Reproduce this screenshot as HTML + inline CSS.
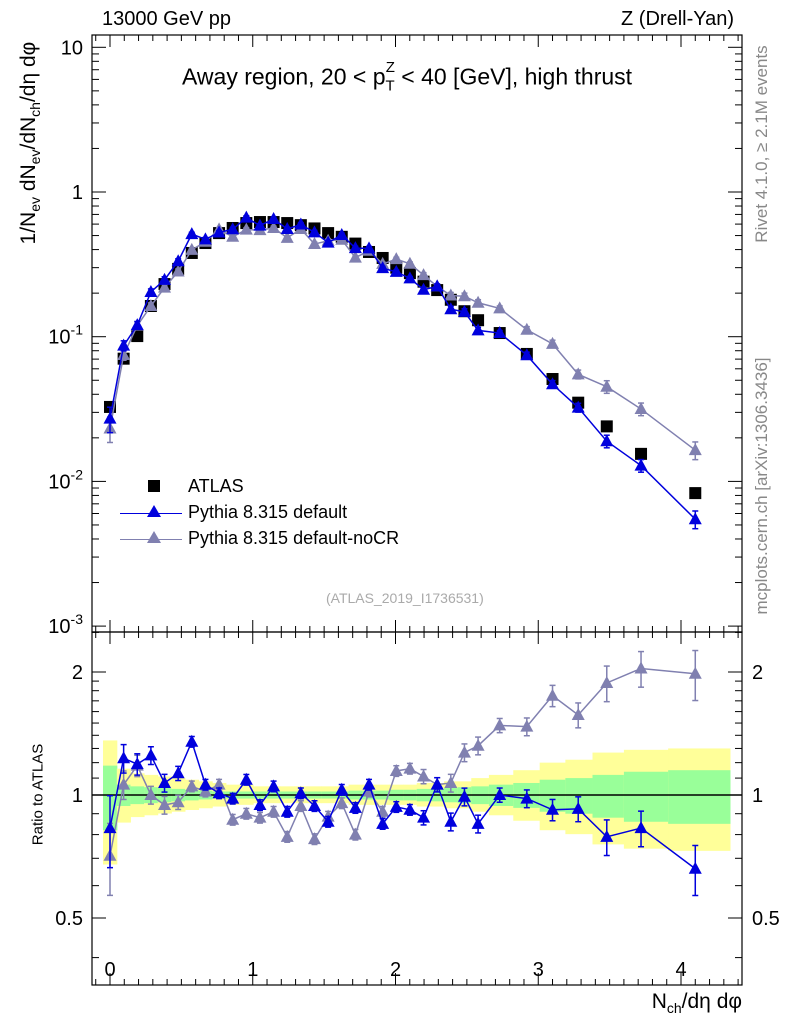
<!DOCTYPE html>
<html><head><meta charset="utf-8"><style>
body{margin:0;background:#fff;font-family:"Liberation Sans",sans-serif}
svg text{font-family:"Liberation Sans","DejaVu Sans",sans-serif}
</style></head><body>
<svg id="c" width="786" height="1024" xmlns="http://www.w3.org/2000/svg"></svg>
<script>
const xs=[0,0.0955,0.191,0.2865,0.382,0.4775,0.573,0.6685,0.764,0.8595,0.955,1.0505,1.146,1.2415,1.337,1.4325,1.528,1.6235,1.719,1.8145,1.91,2.0055,2.101,2.1965,2.292,2.3875,2.483,2.5785,2.73,2.92,3.1,3.28,3.48,3.72,4.1];
const atlas=[0.0327,0.0705,0.101,0.163,0.231,0.294,0.379,0.444,0.52,0.564,0.61,0.62,0.62,0.61,0.59,0.56,0.52,0.49,0.44,0.385,0.35,0.30,0.275,0.24,0.21,0.18,0.15,0.13,0.106,0.076,0.051,0.035,0.024,0.0155,0.0083];
const ratioDefault=[0.83,1.23,1.19,1.25,1.07,1.13,1.35,1.06,1.01,0.98,1.09,0.945,1.05,0.91,1.01,0.94,0.86,1.03,0.93,1.06,0.85,0.935,0.92,0.88,1.06,0.86,0.99,0.85,1.0,0.98,0.92,0.925,0.79,0.83,0.66];
const ratioNoCR=[0.71,1.06,1.18,1.0,0.945,0.96,1.05,1.02,1.06,0.87,0.90,0.88,0.91,0.79,0.94,0.78,0.885,0.955,0.80,1.02,0.91,1.145,1.16,1.11,1.06,1.07,1.27,1.32,1.48,1.47,1.75,1.57,1.88,2.04,1.98];
const relErr=[0.2,0.08,0.06,0.05,0.05,0.04,0.03,0.03,0.03,0.03,0.03,0.03,0.03,0.03,0.03,0.03,0.03,0.03,0.03,0.03,0.03,0.03,0.03,0.04,0.04,0.05,0.05,0.05,0.04,0.05,0.06,0.07,0.1,0.1,0.14];
const bandTot=[0.36,0.16,0.13,0.12,0.11,0.1,0.09,0.08,0.07,0.06,0.06,0.05,0.05,0.05,0.05,0.05,0.05,0.05,0.06,0.06,0.06,0.06,0.06,0.07,0.07,0.08,0.08,0.1,0.12,0.15,0.2,0.22,0.27,0.29,0.3];
const bandStat=[0.18,0.06,0.05,0.045,0.04,0.035,0.03,0.025,0.02,0.02,0.02,0.02,0.02,0.02,0.02,0.02,0.02,0.02,0.025,0.025,0.025,0.03,0.03,0.035,0.035,0.04,0.045,0.05,0.06,0.07,0.09,0.1,0.12,0.14,0.15];
const xTicks=[0,1,2,3,4];
const NS="http://www.w3.org/2000/svg";
const svg=document.getElementById('c');
function el(t,a,p){const e=document.createElementNS(NS,t);for(const k in a)e.setAttribute(k,a[k]);(p||svg).appendChild(e);return e;}
const L=92,R=742,T=35,M=632,B=985;
const X=v=>110+142.75*v;
const Y=v=>192-144.7*Math.log10(v);
const YR=v=>795-408.6*Math.log10(v);
const gb=el('g',{});


for(let i=0;i<xs.length;i++){
 const x0=i==0?X(xs[0])-7:(X(xs[i-1])+X(xs[i]))/2;
 const x1=i==xs.length-1?730:(X(xs[i])+X(xs[i+1]))/2;
 const y=el('rect',{x:x0,y:YR(1+bandTot[i]),width:x1-x0+0.5,height:YR(1-bandTot[i]*0.9)-YR(1+bandTot[i]),fill:'#ffff99'},gb);
 
 
 const g=el('rect',{x:x0,y:YR(1+bandStat[i]),width:x1-x0+0.5,height:YR(1-bandStat[i])-YR(1+bandStat[i]),fill:'#99ff99'},gb);
 
 
}
el('line',{x1:L,x2:R,y1:YR(1),y2:YR(1),stroke:'#000','stroke-width':1.5});
el('rect',{x:L,y:T,width:R-L,height:M-T,fill:'none',stroke:'#000','stroke-width':1.2});
el('rect',{x:L,y:M,width:R-L,height:B-M,fill:'none',stroke:'#000','stroke-width':1.2});
for(let v=-0.1;v<=4.42;v+=0.1){const r=Math.round(v*10);const maj=r%10==0;const px=X(r/10);const len=maj?12:6;
 [[T,1],[M,-1],[M,1],[B,-1]].forEach(([y0,d])=>el('line',{x1:px,x2:px,y1:y0,y2:y0+d*len,stroke:'#000'}));}
xTicks.forEach(v=>{const t=el('text',{x:X(v),y:976,'font-size':20,'text-anchor':'middle'});t.textContent=v;
 });
for(let d=-3;d<=1;d++){for(let m=1;m<10;m++){const v=m*Math.pow(10,d);const py=Y(v);if(py<T||py>M)continue;const len=m==1?14:7;
 el('line',{x1:L,x2:L+len,y1:py,y2:py,stroke:'#000'});el('line',{x1:R,x2:R-len,y1:py,y2:py,stroke:'#000'});}}
const yl=[[10,'10'],[1,'1']];
yl.forEach(([v,s])=>{const t=el('text',{x:83,y:Y(v)+7,'font-size':20,'text-anchor':'end'});t.textContent=s;});
[-1,-2,-3].forEach(d=>{const t=el('text',{x:83,y:Y(Math.pow(10,d))+7,'font-size':20,'text-anchor':'end'});t.innerHTML='10<tspan dy="-9" font-size="14">'+d+'</tspan>';});
[0.4,0.5,0.6,0.7,0.8,0.9,1,1.1,1.2,1.3,1.4,1.5,1.6,1.7,1.8,1.9,2,2.5].forEach(v=>{const py=YR(v);const maj=(v==0.5||v==1||v==2);const len=maj?14:7;
 el('line',{x1:L,x2:L+len,y1:py,y2:py,stroke:'#000'});el('line',{x1:R,x2:R-len,y1:py,y2:py,stroke:'#000'});});
[[2,'2'],[1,'1'],[0.5,'0.5']].forEach(([v,s])=>{[[83,'end'],[752,'start']].forEach(([x,a])=>{const t=el('text',{x:x,y:YR(v)+7,'font-size':20,'text-anchor':a});t.textContent=s;});});
function tri(g,cx,cy,c){el('path',{d:`M${cx},${cy-7}L${cx+6.5},${cy+5}L${cx-6.5},${cy+5}Z`,fill:c},g);}
function series(name,vals,c,ratio){
 const g=el('g',{});
 const Yf=ratio?YR:Y;
 el('polyline',{points:xs.map((x,i)=>X(x)+','+Yf(vals[i])).join(' '),fill:'none',stroke:c,'stroke-width':1.5},g);
 xs.forEach((x,i)=>{const v=vals[i],e=relErr[i];const px=X(x);
  const y1=Yf(v*(1+e)),y2=Yf(v*(1-e));
  el('line',{x1:px,x2:px,y1:y1,y2:y2,stroke:c,'stroke-width':1.5},g);
  el('line',{x1:px-3,x2:px+3,y1:y1,y2:y1,stroke:c,'stroke-width':1.5},g);
  el('line',{x1:px-3,x2:px+3,y1:y2,y2:y2,stroke:c,'stroke-width':1.5},g);
  tri(g,px,Yf(v),c);});
}
const pyDef=atlas.map((a,i)=>a*ratioDefault[i]);
const pyNo=atlas.map((a,i)=>a*ratioNoCR[i]);
const ga=el('g',{});
xs.forEach((x,i)=>{el('rect',{x:X(x)-6,y:Y(atlas[i])-6,width:12,height:12,fill:'#000'},ga);});
series('pythia-default-nocr-main',pyNo,'#8080b0',false);
series('pythia-default-main',pyDef,'#0000dd',false);
series('pythia-default-nocr-ratio',ratioNoCR,'#8080b0',true);
series('pythia-default-ratio',ratioDefault,'#0000dd',true);
</script>
<div style="position:absolute;left:0;top:0;width:786px;height:1024px;pointer-events:none;font-size:20px;white-space:nowrap">
<div style="position:absolute;left:102px;top:8px">13000 GeV pp</div>
<div style="position:absolute;right:52px;top:8px">Z (Drell-Yan)</div>
<div style="position:absolute;left:182px;top:63px;font-size:23px">Away region, 20 &lt; p<sub style="font-size:15px">T</sub><sup style="font-size:15px;margin-left:-9px;position:relative;top:-4px">Z</sup> &lt; 40 [GeV], high thrust</div>
<div style="position:absolute;left:-140px;top:130px;width:340px;transform:rotate(-90deg);text-align:center;font-size:21px">1/N<sub style="font-size:14px">ev</sub> dN<sub style="font-size:14px">ev</sub>/dN<sub style="font-size:14px">ch</sub>/dη dφ</div>
<div style="position:absolute;left:-32px;top:786px;width:140px;transform:rotate(-90deg);text-align:center;font-size:15px">Ratio to ATLAS</div>
<div style="position:absolute;right:44px;top:990px;font-size:21px">N<sub style="font-size:14px">ch</sub>/dη dφ</div>
<div style="position:absolute;left:612px;top:134px;width:300px;transform:rotate(-90deg);text-align:center;font-size:17px;color:#888">Rivet 4.1.0, ≥ 2.1M events</div>
<div style="position:absolute;left:602px;top:476px;width:320px;transform:rotate(-90deg);text-align:center;font-size:17px;color:#888">mcplots.cern.ch [arXiv:1306.3436]</div>
<div style="position:absolute;left:326px;top:590px;font-size:14px;color:#aaa">(ATLAS_2019_I1736531)</div>
<div style="position:absolute;left:120px;top:476px;font-size:18px">
 <div style="position:absolute;left:28px;top:4px;width:12px;height:12px;background:#000"></div>
 <div style="position:absolute;left:68px;top:0">ATLAS</div>
 <div style="position:absolute;left:0;top:37px;width:62px;border-top:1.5px solid #0000dd"></div>
 <div style="position:absolute;left:27px;top:29px;width:0;height:0;border-left:7px solid transparent;border-right:7px solid transparent;border-bottom:12px solid #0000dd"></div>
 <div style="position:absolute;left:68px;top:26px">Pythia 8.315 default</div>
 <div style="position:absolute;left:0;top:63px;width:62px;border-top:1.5px solid #8080b0"></div>
 <div style="position:absolute;left:27px;top:55px;width:0;height:0;border-left:7px solid transparent;border-right:7px solid transparent;border-bottom:12px solid #8080b0"></div>
 <div style="position:absolute;left:68px;top:52px">Pythia 8.315 default-noCR</div>
</div>
</div>
</body></html>
